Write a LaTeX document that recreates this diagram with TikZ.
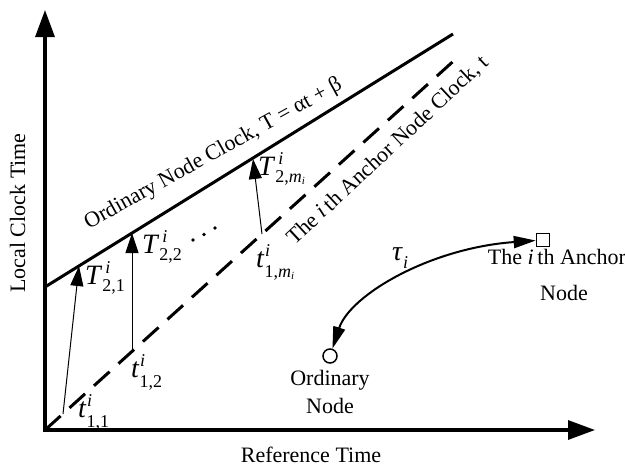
\documentclass[tikz,border=0pt]{standalone}
\usepackage{fontspec}
\setmainfont{Liberation Serif}
\usetikzlibrary{arrows.meta}
\newcommand{\scr}{\fontsize{18}{18}\selectfont}
% #1 letter, #2 kern before sup, #3 sub shift, #4 subscript
\newcommand{\mylab}[4]{\textit{#1}\rlap{\kern#2\raisebox{0.36em}{\scr\textit{i}}}\raisebox{-#3}{\scr #4}}
\newcommand{\mi}{\textit{m}\raisebox{-0.12em}{\fontsize{11}{11}\selectfont\textit{i}}}
\begin{document}
\begin{tikzpicture}[x=1pt,y=-1pt,
  axis/.style={line width=3.2pt,{Triangle[length=27pt,width=19pt]}-{Triangle[length=27pt,width=19pt]}},
  clk/.style={line width=3pt},
  anc/.style={line width=3pt,dash pattern=on 21pt off 12pt},
  msg/.style={line width=1pt,-{Triangle[length=20pt,width=13pt]}},
  lbl/.style={inner sep=0pt,anchor=base west,font=\fontsize{28}{30}\selectfont},
  txt/.style={inner sep=0pt,font=\fontsize{22}{26}\selectfont},
  nodebox/.style={draw,line width=1.5pt,minimum size=13pt,inner sep=0pt},
  nodecirc/.style={draw,circle,line width=1.5pt,minimum size=14pt,inner sep=0pt},
  link/.style={line width=2pt,{Triangle[length=22pt,width=12pt]}-{Triangle[length=22pt,width=12pt]}},
  dot/.style={fill=black,circle,inner sep=0pt,minimum size=3.6pt}
]
\useasboundingbox (0,0) rectangle (625,467);
% axes
\coordinate (O) at (45,430);
\coordinate (Ytip) at (45,10);
\coordinate (Xtip) at (595,430);
\draw[axis] (Ytip) -- (O) -- (Xtip);
% clocks
\coordinate (S0) at (45,287);
\coordinate (S1) at (453,34);
\draw[clk] (S0) -- (S1);
\coordinate (D1) at (458,57);
\draw[anc] (O) -- (D1);
% message arrows
\coordinate (a1) at (63,414); \coordinate (b1) at (79,266);
\coordinate (a2) at (132,350); \coordinate (b2) at (132,233);
\coordinate (a3) at (262,234); \coordinate (b3) at (253,159);
\draw[msg] (a1) -- (b1);
\draw[msg] (a2) -- (b2);
\draw[msg] (a3) -- (b3);
% dots
\node[dot] (d1) at (193,240) {};
\node[dot] (d2) at (204,234.5) {};
\node[dot] (d3) at (215,228) {};
% labels
\node[lbl] (T21) at (85,284) {\mylab{T}{3pt}{0.25em}{2,1}};
\node[lbl] (T22) at (142,253) {\mylab{T}{3pt}{0.25em}{2,2}};
\node[lbl] (T2m) at (258,175) {\mylab{T}{3pt}{0.25em}{2,\mi}};
\node[lbl] (t11) at (78,417) {\mylab{t}{0.5pt}{0.36em}{1,1}};
\node[lbl] (t12) at (131,377) {\mylab{t}{0.5pt}{0.36em}{1,2}};
\node[lbl] (t1m) at (256,267) {\mylab{t}{0.5pt}{0.36em}{1,\mi}};
% line texts
\node[txt,rotate=29,anchor=base] (clkLbl) at (216,159) {Ordinary Node Clock, T = αt + β};
\node[txt,rotate=43,anchor=base] (ancLbl) at (392,155) {The \textit{i}\,th Anchor Node Clock, t};
% axis labels
\node[txt,rotate=90,anchor=base] (ylab) at (25,213) {Local Clock Time};
\node[txt,anchor=base] (xlab) at (311,462) {Reference Time};
% nodes
\node[nodebox] (anchorN) at (543,240) {};
\node[nodecirc] (ordN) at (330,356) {};
\draw[link] (ordN) .. controls (350,295) and (430,248) .. (anchorN);
\node[lbl] (tau) at (392,260) {\textit{τ}\raisebox{-0.3em}{\scr\textit{i}}};
\node[txt,anchor=base] (ancT1) at (557,264) {The \textit{i}\,th Anchor};
\node[txt,anchor=base] (ancT2) at (564,300) {Node};
\node[txt,anchor=base] (ordT1) at (330,385) {Ordinary};
\node[txt,anchor=base] (ordT2) at (330,413) {Node};
\end{tikzpicture}
\end{document}
